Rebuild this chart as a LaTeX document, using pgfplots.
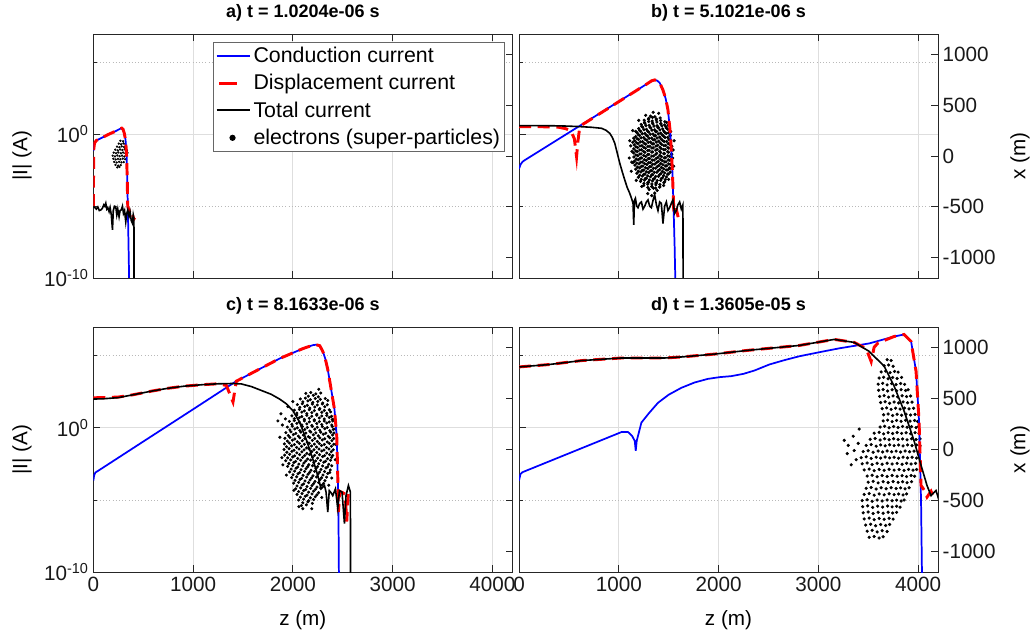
\documentclass[border=0pt]{standalone}
\usepackage{fontspec}
\setmainfont{Liberation Sans}
\usepackage{pgfplots}
\pgfplotsset{compat=1.18}
\definecolor{axgray}{RGB}{38,38,38}
\definecolor{gridmaj}{RGB}{222,222,222}
\definecolor{gridmin}{RGB}{185,185,185}
\newcommand{\tfont}{\fontsize{15.5}{18}\selectfont}
\pgfplotsset{
  base/.style={scale only axis, width=314.25pt, xmin=0, xmax=4200,
    axis line style={axgray, line width=0.6pt},
    tick style={axgray, line width=0.6pt},
    major tick length=5pt, minor tick length=3pt,
    tick label style={font=\tfont, text=black!90},
    xtick={0,1000,2000,3000,4000},
    every axis y label/.style={at={(axis description cs:-0.17,0.5)}, rotate=90, anchor=center, font=\tfont},
    every axis x label/.style={at={(axis description cs:0.5,-0.196)}, anchor=center, font=\tfont},
    every axis title/.style={at={(axis description cs:0.5,1.086)}, anchor=center, font=\fontsize{13.5}{16}\selectfont\bfseries},
  },
  cur/.style={base, ymin=-10, ymax=7, ytick={-10,0}, minor ytick={-5,5},
    ytick pos=left, xtick pos=both,
    xmajorgrids, ymajorgrids, yminorgrids,
    major grid style={gridmaj, line width=0.6pt},
    minor grid style={gridmin, dotted, line width=0.6pt},
  },
  par/.style={base, axis y line*=right, axis x line=none, ymin=-1200, ymax=1200,
    ytick={-1000,-500,0,500,1000},
    every axis y label/.style={at={(axis description cs:1.196,0.5)}, rotate=90, anchor=center, font=\tfont}},
  dat/.style={scale only axis, width=314.25pt, xmin=0, xmax=4200, ymin=-10, ymax=7, hide axis},
  elec/.style={only marks, mark=*, black, mark options={draw=none, fill=black}},
}
\begin{document}
\begin{tikzpicture}
\path[use as bounding box] (0,0) rectangle (775.5pt,477pt);
% ================= panel a
\begin{axis}[cur, at={(70pt,268.5pt)}, anchor=south west, height=183pt,
  xticklabels={}, yticklabels={10\textsuperscript{-10},10\textsuperscript{0}},
  ylabel={|I| (A)}, title={a) t = 1.0204e-06 s}]
\end{axis}
\begin{axis}[par, at={(70pt,268.5pt)}, anchor=south west, height=183pt, yticklabels={}]
\addplot[elec, mark size=0.65pt] table {
272 150
298 145
255 122
278 116
302 124
320 118
238 92
262 86
284 95
308 88
329 93
220 62
244 55
268 64
291 58
314 66
337 57
204 33
228 27
251 35
276 28
299 34
321 26
343 31
194 3
217 -4
241 5
264 -2
288 4
311 -5
334 2
200 -27
224 -34
247 -28
271 -33
295 -26
319 -32
209 -58
234 -64
259 -57
282 -63
304 -60
222 -88
249 -95
274 -90
240 -112
262 -108
};
\end{axis}
\begin{axis}[dat, at={(70pt,268.5pt)}, anchor=south west, height=183pt,
  legend style={at={(0.983,0.967)}, anchor=north east, draw=black!60, line width=0.6pt,
    font=\fontsize{16}{18}\selectfont, inner sep=1.5pt, row sep=3.4pt, column sep=0pt},
  legend cell align=left]
\addplot[blue, line width=1.3pt, forget plot] coordinates {(0,-1.15)(5,-0.85)(12,-0.6)(30,-0.42)(80,-0.25)(150,0.0)(220,0.22)(270,0.40)(285,0.44)(298,0.36)(310,0.1)(323,-0.38)(334,-1.55)(340,-3.17)(347,-5.49)(353,-7.82)(360,-10.5)};
\addplot[red, line width=2.2pt, dash pattern=on 9pt off 5pt, forget plot] coordinates {(0,-5.0)(2,-3.0)(4,-1.05)(12,-0.6)(30,-0.42)(80,-0.25)(150,0.0)(220,0.22)(270,0.40)(285,0.44)(298,0.36)(310,0.1)(323,-0.38)(334,-1.55)(340,-3.17)(345,-5.0)(360,-5.3)(375,-5.6)(390,-5.5)(405,-5.9)(415,-5.8)};
\addplot[black, line width=1.2pt, forget plot] coordinates {(0,-5.03)(15,-5.1)(30,-5.2)(45,-5.05)(60,-5.3)(75,-5.26)(90,-5.15)(105,-4.9)(115,-5.0)(125,-4.79)(135,-5.2)(145,-5.1)(158,-5.38)(168,-5.1)(180,-5.6)(192,-6.65)(200,-5.3)(212,-5.0)(225,-5.03)(235,-5.6)(245,-5.2)(258,-5.73)(268,-5.3)(280,-5.26)(292,-5.0)(302,-5.5)(313,-5.3)(325,-6.08)(335,-5.5)(345,-5.26)(358,-5.7)(368,-5.4)(380,-6.0)(392,-6.19)(400,-5.6)(407,-5.84)(408,-10.5)};
\addlegendimage{legend image code/.code={\draw[blue, line width=1.3pt] (0pt,0pt) -- (25pt,0pt);}}
\addlegendentry{Conduction current}
\addlegendimage{legend image code/.code={\draw[red, line width=2.2pt] (2pt,0pt) -- (15pt,0pt);}}
\addlegendentry{Displacement current}
\addlegendimage{legend image code/.code={\draw[black, line width=1.5pt] (0pt,0pt) -- (25pt,0pt);}}
\addlegendentry{Total current}
\addlegendimage{legend image code/.code={\fill[black] (12pt,0pt) circle (2pt);}}
\addlegendentry{electrons (super-particles)}
\end{axis}
% ================= panel b
\begin{axis}[cur, at={(389.25pt,268.5pt)}, anchor=south west, height=183pt,
  xticklabels={}, yticklabels={}, title={b) t = 5.1021e-06 s}]
\end{axis}
\begin{axis}[par, at={(389.25pt,268.5pt)}, anchor=south west, height=183pt,
  yticklabels={-1000,-500,0,500,1000}, ylabel={x (m)}]
\addplot[elec, mark size=1.0pt] table {
1318 392
1362 386
1255 352
1298 361
1335 344
1377 355
1420 348
1225 310
1262 322
1305 302
1343 315
1384 298
1422 318
1460 306
1200 270
1240 283
1278 262
1321 276
1360 257
1398 279
1440 266
1478 274
1182 230
1220 242
1262 222
1300 236
1343 216
1380 240
1420 225
1461 233
1498 228
1170 190
1208 203
1250 181
1288 196
1330 176
1368 200
1410 186
1450 194
1490 183
1512 197
1160 150
1198 163
1238 141
1280 156
1318 136
1360 160
1400 146
1438 154
1480 143
1518 157
1155 110
1192 123
1232 101
1270 116
1312 96
1350 120
1390 106
1430 114
1470 103
1508 117
1528 100
1150 70
1188 83
1228 61
1268 76
1305 56
1345 80
1385 66
1424 74
1465 63
1502 77
1532 60
1148 30
1185 43
1224 21
1262 36
1302 16
1340 40
1380 26
1420 34
1458 23
1498 37
1530 20
1152 -10
1190 3
1230 -19
1271 -4
1310 -24
1349 0
1392 -14
1428 -6
1468 -17
1508 -3
1531 -20
1158 -50
1196 -37
1236 -59
1275 -44
1316 -64
1355 -40
1395 -54
1436 -46
1474 -57
1512 -43
1162 -90
1203 -77
1242 -99
1282 -84
1322 -104
1362 -80
1402 -94
1442 -86
1480 -97
1518 -83
1170 -130
1210 -117
1250 -139
1290 -124
1331 -144
1370 -120
1410 -134
1451 -126
1492 -137
1512 -123
1182 -170
1222 -157
1262 -179
1300 -164
1340 -184
1382 -160
1422 -174
1460 -166
1498 -177
1196 -210
1236 -197
1276 -219
1318 -204
1357 -224
1398 -200
1438 -214
1478 -206
1218 -250
1258 -237
1298 -259
1338 -244
1378 -264
1420 -240
1460 -254
1250 -290
1290 -277
1332 -299
1372 -284
1412 -304
1305 -330
1348 -317
1385 -339
1120 100
1130 -60
1545 60
1290 -370
1360 -365
1400 420
1175 -240
1520 240
1110 150
1105 -20
1125 -150
1140 250
1200 350
1230 -300
1450 -290
1500 -230
1550 -100
1555 150
1480 330
1270 400
1330 -390
1345 430
1540 -20
};
\addplot[elec, mark size=1.0pt] table {
1300 370
1338 379
1376 364
1415 374
1258 330
1300 339
1338 324
1382 334
1420 319
1462 337
1232 290
1272 299
1312 284
1353 294
1392 279
1432 297
1472 287
1495 302
1210 250
1252 259
1290 244
1332 254
1370 239
1412 257
1450 247
1492 262
1170 242
1196 210
1236 219
1276 204
1316 214
1356 199
1396 217
1436 207
1476 222
1516 202
1184 170
1224 179
1264 164
1304 174
1344 159
1384 177
1424 167
1464 182
1504 162
1150 175
1178 130
1216 139
1256 124
1296 134
1336 119
1376 137
1416 127
1456 142
1496 122
1140 135
1172 90
1212 99
1252 84
1292 94
1332 79
1372 97
1412 87
1452 102
1492 82
1532 95
1170 50
1210 59
1250 44
1290 54
1330 39
1370 57
1410 47
1450 62
1490 42
1530 55
1132 45
1171 10
1211 19
1251 4
1291 14
1331 -1
1371 17
1411 7
1451 22
1491 2
1531 15
1176 -30
1216 -21
1256 -36
1296 -26
1336 -41
1376 -23
1416 -33
1456 -18
1496 -38
1536 -25
1180 -70
1220 -61
1260 -76
1300 -66
1340 -81
1380 -63
1420 -73
1460 -58
1500 -78
1142 -65
1188 -110
1228 -101
1268 -116
1308 -106
1348 -121
1388 -103
1428 -113
1468 -98
1508 -118
1196 -150
1236 -141
1276 -156
1316 -146
1356 -161
1396 -143
1436 -153
1476 -138
1516 -158
1210 -190
1250 -181
1290 -196
1330 -186
1370 -201
1410 -183
1450 -193
1490 -178
1226 -230
1266 -221
1306 -236
1346 -226
1386 -241
1426 -223
1466 -233
1252 -270
1292 -261
1332 -276
1372 -266
1412 -281
1452 -263
1292 -310
1330 -301
1370 -316
1410 -306
};
\end{axis}
\begin{axis}[dat, at={(389.25pt,268.5pt)}, anchor=south west, height=183pt]
\addplot[blue, line width=1.3pt] coordinates {(0,-2.4)(15,-2.1)(35,-1.9)(60,-1.78)(1293,3.57)(1330,3.74)(1360,3.80)(1385,3.75)(1410,3.6)(1443,3.10)(1470,2.5)(1493,1.71)(1517,0.08)(1537,-2.47)(1550,-5.26)(1560,-7.82)(1568,-10.5)};
\addplot[red, line width=2.2pt, dash pattern=on 9pt off 5pt] coordinates {(0,0.54)(100,0.54)(200,0.54)(300,0.53)(400,0.50)(470,0.40)(520,0.25)(555,-0.3)(577,-1.55)(590,-0.5)(605,0.3)(625,0.55)(643,0.72)(1293,3.57)(1330,3.74)(1360,3.80)(1385,3.75)(1410,3.6)(1443,3.10)(1470,2.5)(1493,1.71)(1517,0.08)(1537,-2.47)(1550,-5.0)(1565,-4.8)(1580,-5.3)(1595,-5.76)};
\addplot[black, line width=1.2pt] coordinates {(0,0.61)(100,0.62)(200,0.62)(300,0.61)(400,0.60)(500,0.58)(627,0.54)(727,0.50)(827,0.43)(870,0.30)(910,0.08)(935,-0.2)(960,-0.61)(985,-1.3)(1010,-2.0)(1035,-2.6)(1060,-3.17)(1085,-3.7)(1110,-4.1)(1133,-4.56)(1143,-4.8)(1150,-6.3)(1157,-4.6)(1167,-4.45)(1180,-5.0)(1193,-5.1)(1210,-4.8)(1227,-4.7)(1243,-5.2)(1260,-5.0)(1277,-4.7)(1293,-4.56)(1310,-5.0)(1327,-5.1)(1343,-4.6)(1360,-4.2)(1377,-4.9)(1393,-5.3)(1410,-4.7)(1427,-4.8)(1443,-6.2)(1460,-5.0)(1477,-4.7)(1493,-5.3)(1510,-5.1)(1527,-4.8)(1543,-4.56)(1560,-5.5)(1577,-5.3)(1593,-4.9)(1610,-4.7)(1627,-5.2)(1643,-4.9)(1645,-10.5)};
\end{axis}
% ================= panel c
\begin{axis}[cur, at={(70pt,48pt)}, anchor=south west, height=183.75pt,
  xticklabels={0,1000,2000,3000,4000}, yticklabels={10\textsuperscript{-10},10\textsuperscript{0}},
  ylabel={|I| (A)}, xlabel={z (m)}, title={c) t = 8.1633e-06 s}]
\end{axis}
\begin{axis}[par, at={(70pt,48pt)}, anchor=south west, height=183.75pt, yticklabels={}]
\addplot[elec, mark size=0.95pt] table {
2130 550
2180 558
2230 545
2280 553
2075 495
2125 503
2175 488
2225 500
2275 491
2325 499
2045 440
2095 448
2145 433
2195 445
2245 436
2295 446
2345 438
2015 385
2065 393
2115 378
2165 390
2215 381
2265 391
2315 383
2365 389
1990 330
2040 338
2090 323
2140 335
2190 326
2240 336
2290 328
2340 334
2388 325
1965 275
2015 283
2065 268
2115 280
2165 271
2215 281
2265 273
2315 279
2365 270
2400 280
1945 220
1995 228
2045 213
2095 225
2145 216
2195 226
2245 218
2295 224
2345 215
2395 225
1930 165
1980 173
2030 158
2080 170
2130 161
2180 171
2230 163
2280 169
2330 160
2380 170
2412 162
1920 110
1970 118
2020 103
2070 115
2120 106
2170 116
2220 108
2270 114
2320 105
2370 115
2410 107
1915 55
1965 63
2015 48
2065 60
2115 51
2165 61
2215 53
2265 59
2315 50
2365 60
2410 52
1912 0
1962 8
2012 -7
2062 5
2112 -4
2162 6
2212 -2
2262 4
2312 -5
2362 5
2405 -3
1918 -55
1968 -47
2018 -62
2068 -50
2118 -59
2168 -49
2218 -57
2268 -51
2318 -60
2368 -50
2400 -58
1928 -110
1978 -102
2028 -117
2078 -105
2128 -114
2178 -104
2228 -112
2278 -106
2328 -115
2378 -105
1948 -165
1998 -157
2048 -172
2098 -160
2148 -169
2198 -159
2248 -167
2298 -161
2348 -170
2390 -160
1968 -220
2018 -212
2068 -227
2118 -215
2168 -224
2218 -214
2268 -222
2318 -216
2370 -225
1988 -275
2038 -267
2088 -282
2138 -270
2188 -279
2238 -269
2288 -277
2338 -271
2008 -330
2058 -322
2108 -337
2158 -325
2208 -334
2258 -324
2308 -332
2028 -385
2078 -377
2128 -392
2178 -380
2228 -389
2278 -379
2042 -440
2092 -432
2142 -447
2192 -435
2242 -444
2058 -495
2108 -487
2158 -502
2208 -490
2085 -550
2135 -542
1850 280
1895 240
1870 120
1890 -80
1950 420
2420 300
2390 -280
2100 -580
1880 350
1900 -150
1925 300
1935 -250
2000 470
2010 -400
2060 -560
2190 -580
2290 -470
2360 -350
2425 200
2430 50
2425 -100
2350 480
2260 590
};
\addplot[elec, mark size=0.95pt] table {
2155 522
2205 531
2255 516
2100 467
2150 476
2200 461
2250 471
2300 456
2070 412
2120 421
2170 406
2220 416
2270 401
2320 419
2040 357
2090 366
2140 351
2190 361
2240 346
2290 364
2340 354
2378 369
2015 302
2065 311
2115 296
2165 306
2215 291
2265 309
2315 299
2365 314
2395 294
1990 247
2040 256
2090 241
2140 251
2190 236
2240 254
2290 244
2340 259
2390 239
1970 192
2020 201
2070 186
2120 196
2170 181
2220 199
2270 189
2320 204
2370 184
2405 197
1955 137
2005 146
2055 131
2105 141
2155 126
2205 144
2255 134
2305 149
2355 129
2398 142
1945 82
1995 91
2045 76
2095 86
2145 71
2195 89
2245 79
2295 94
2345 74
2392 87
1937 27
1987 36
2037 21
2087 31
2137 16
2187 34
2237 24
2287 39
2337 19
2387 32
1940 -27
1990 -18
2040 -33
2090 -23
2140 -38
2190 -20
2240 -30
2290 -15
2340 -35
2385 -22
1948 -82
1998 -73
2048 -88
2098 -78
2148 -93
2198 -75
2248 -85
2298 -70
2348 -90
2388 -77
1960 -137
2010 -128
2060 -143
2110 -133
2160 -148
2210 -130
2260 -140
2310 -125
2360 -145
1982 -192
2032 -183
2082 -198
2132 -188
2182 -203
2232 -185
2282 -195
2332 -180
2375 -200
2002 -247
2052 -238
2102 -253
2152 -243
2202 -258
2252 -240
2302 -250
2350 -235
2022 -302
2072 -293
2122 -308
2172 -298
2222 -313
2272 -295
2322 -305
2042 -357
2092 -348
2142 -363
2192 -353
2242 -368
2292 -350
2058 -412
2108 -403
2158 -418
2208 -408
2258 -423
2075 -467
2125 -458
2175 -473
2225 -463
2100 -522
2150 -513
2195 -528
};
\end{axis}
\begin{axis}[dat, at={(70pt,48pt)}, anchor=south west, height=183.75pt]
\addplot[blue, line width=1.3pt] coordinates {(0,-3.66)(8,-3.3)(20,-3.1)(50,-2.97)(500,-0.95)(1000,1.29)(1433,3.24)(1867,4.81)(2100,5.5)(2200,5.74)(2233,5.77)(2270,5.7)(2300,5.31)(2325,4.8)(2350,4.05)(2384,2.67)(2417,1.29)(2440,-0.55)(2450,-3.31)(2457,-5.84)(2462,-10.5)};
\addplot[red, line width=2.2pt, dash pattern=on 9pt off 5pt] coordinates {(0,2.09)(100,2.1)(250,2.14)(400,2.3)(583,2.55)(750,2.75)(917,2.90)(1100,3.0)(1250,3.06)(1333,2.95)(1400,1.8)(1433,3.24)(1867,4.81)(2100,5.5)(2200,5.74)(2233,5.77)(2270,5.7)(2300,5.31)(2325,4.8)(2350,4.05)(2384,2.67)(2417,1.29)(2440,-0.55)(2450,-3.31)(2457,-5.84)(2470,-4.4)(2500,-4.5)(2525,-4.6)(2540,-6.5)(2555,-4.6)};
\addplot[black, line width=1.2pt] coordinates {(0,2.0)(100,2.02)(250,2.1)(400,2.3)(583,2.55)(750,2.75)(917,2.9)(1100,3.0)(1250,3.06)(1400,3.08)(1483,3.05)(1583,2.87)(1683,2.6)(1783,2.33)(1867,2.0)(1933,1.68)(2000,1.2)(2067,0.4)(2133,-0.78)(2200,-2.16)(2250,-3.31)(2283,-4.23)(2317,-4.0)(2333,-4.46)(2350,-5.84)(2365,-4.35)(2383,-4.5)(2400,-4.7)(2427,-4.23)(2450,-5.6)(2467,-4.35)(2493,-4.46)(2517,-6.64)(2533,-4.69)(2557,-4.0)(2577,-4.46)(2578,-10.5)};
\end{axis}
% ================= panel d
\begin{axis}[cur, at={(389.25pt,48pt)}, anchor=south west, height=183.75pt,
  xticklabels={0,1000,2000,3000,4000}, yticklabels={}, xlabel={z (m)}, title={d) t = 1.3605e-05 s}]
\end{axis}
\begin{axis}[par, at={(389.25pt,48pt)}, anchor=south west, height=183.75pt,
  yticklabels={-1000,-500,0,500,1000}, ylabel={x (m)}]
\addplot[elec, mark size=1.0pt] table {
3690 880
3730 872
3660 820
3705 828
3750 815
3630 760
3675 768
3720 753
3765 765
3800 758
3610 700
3655 708
3700 693
3745 705
3790 696
3835 706
3600 640
3645 648
3690 633
3735 645
3780 636
3825 646
3865 638
3605 580
3650 588
3695 573
3740 585
3785 576
3830 586
3875 578
3900 585
3615 520
3660 528
3705 513
3750 525
3795 516
3840 526
3885 518
3925 524
3625 460
3670 468
3715 453
3760 465
3805 456
3850 466
3895 458
3940 464
3640 400
3685 408
3730 393
3775 405
3820 396
3865 406
3910 398
3955 404
3655 340
3700 348
3745 333
3790 345
3835 336
3880 346
3925 338
3970 344
3650 280
3695 288
3740 273
3785 285
3830 276
3875 286
3920 278
3965 284
3995 275
3620 220
3665 228
3710 213
3755 225
3800 216
3845 226
3890 218
3935 224
3980 215
4005 226
3560 160
3610 168
3655 153
3700 165
3745 156
3790 166
3835 158
3880 164
3925 155
3970 165
4010 158
3520 100
3570 108
3620 93
3665 105
3710 96
3755 106
3800 98
3845 104
3890 95
3935 105
3980 98
4020 104
3480 40
3530 48
3580 33
3625 45
3670 36
3715 46
3760 38
3805 44
3850 35
3895 45
3940 38
3985 44
4020 36
3450 -20
3500 -12
3550 -27
3600 -15
3645 -24
3690 -14
3735 -22
3780 -16
3825 -25
3870 -15
3915 -22
3960 -16
4005 -24
3430 -80
3480 -72
3530 -87
3580 -75
3625 -84
3670 -74
3715 -82
3760 -76
3805 -85
3850 -75
3895 -82
3940 -76
3985 -84
3440 -140
3490 -132
3540 -147
3590 -135
3640 -144
3690 -134
3740 -142
3790 -136
3840 -145
3885 -135
3930 -142
3975 -136
3460 -200
3510 -192
3560 -207
3610 -195
3660 -204
3710 -194
3760 -202
3810 -196
3860 -205
3905 -195
3950 -202
3985 -196
3490 -260
3540 -252
3590 -267
3640 -255
3690 -264
3740 -254
3790 -262
3840 -256
3885 -265
3930 -255
3965 -262
3500 -320
3550 -312
3600 -327
3650 -315
3700 -324
3750 -314
3800 -322
3845 -316
3890 -325
3935 -315
3480 -380
3530 -372
3580 -387
3630 -375
3680 -384
3730 -374
3780 -382
3825 -376
3870 -385
3910 -375
3460 -440
3510 -432
3560 -447
3610 -435
3660 -444
3710 -434
3760 -442
3805 -436
3850 -445
3885 -435
3440 -500
3490 -492
3540 -507
3590 -495
3640 -504
3690 -494
3740 -502
3785 -496
3830 -505
3860 -495
3445 -560
3495 -552
3545 -567
3595 -555
3645 -564
3695 -554
3740 -562
3785 -556
3820 -565
3450 -620
3500 -612
3550 -627
3600 -615
3650 -624
3700 -614
3745 -622
3785 -616
3460 -680
3510 -672
3560 -687
3610 -675
3660 -684
3710 -674
3750 -682
3475 -740
3525 -732
3575 -747
3625 -735
3675 -744
3715 -734
3490 -800
3540 -792
3590 -807
3640 -795
3690 -804
3510 -860
3560 -852
3610 -867
3650 -855
3260 90
3300 40
3290 -40
3350 130
3380 -100
3330 -150
3400 60
3410 200
3360 -10
};
\end{axis}
\begin{axis}[dat, at={(389.25pt,48pt)}, anchor=south west, height=183.75pt]
\addplot[blue, line width=1.3pt] coordinates {(0,-3.66)(15,-3.2)(33,-3.08)(1027,-0.29)(1093,-0.29)(1133,-0.55)(1160,-0.9)(1170,-1.59)(1180,-0.9)(1210,-0.09)(1227,0.37)(1300,1.0)(1393,1.74)(1500,2.3)(1627,2.78)(1760,3.15)(1893,3.40)(2010,3.52)(2127,3.59)(2250,3.75)(2360,3.98)(2510,4.4)(2660,4.7)(2810,4.97)(3010,5.25)(3210,5.52)(3510,5.86)(3760,6.34)(3860,6.48)(3930,6.0)(3980,3.93)(4010,0.48)(4030,-5.03)(4040,-10.5)};
\addplot[red, line width=2.2pt, dash pattern=on 9pt off 5pt] coordinates {(0,4.23)(293,4.39)(627,4.67)(1027,4.85)(1460,4.85)(1627,4.92)(1960,5.12)(2293,5.38)(2810,5.72)(3160,6.14)(3360,5.93)(3480,5.5)(3530,4.6)(3560,5.6)(3600,5.9)(3760,6.34)(3860,6.48)(3930,6.0)(3980,3.93)(4010,0.48)(4030,-4.0)(4060,-4.3)(4090,-4.8)(4130,-4.4)(4160,-4.9)};
\addplot[black, line width=1.2pt] coordinates {(0,4.23)(293,4.39)(627,4.67)(1027,4.85)(1460,4.85)(1627,4.92)(1960,5.12)(2293,5.38)(2810,5.72)(3160,6.14)(3360,5.93)(3510,5.31)(3660,4.28)(3760,2.90)(3860,1.17)(3960,-0.9)(4030,-2.6)(4090,-4.0)(4130,-4.7)(4180,-4.34)(4210,-5.03)};
\end{axis}
\end{tikzpicture}
\end{document}
